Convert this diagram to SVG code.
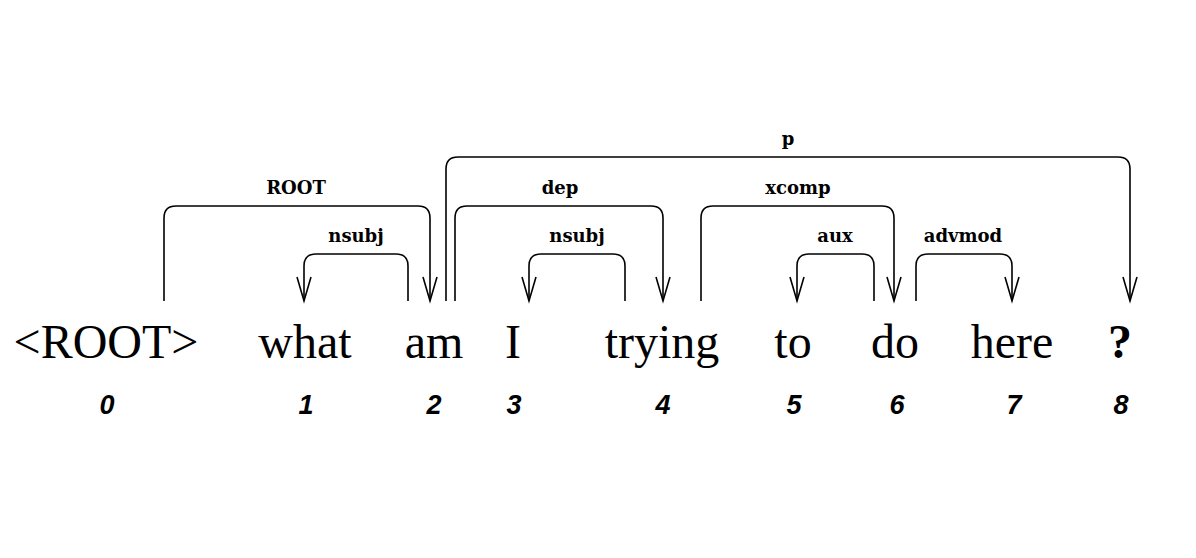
<svg xmlns="http://www.w3.org/2000/svg" width="1196" height="558" viewBox="0 0 1196 558">
<defs>
<marker id="ah" markerUnits="userSpaceOnUse" markerWidth="40" markerHeight="40" refX="0" refY="0" orient="auto" viewBox="-30 -15 40 30" overflow="visible">
<path d="M -24 -7 L 0 0 L -24 7" fill="none" stroke="#000" stroke-width="1.6"/>
</marker>
</defs>
<style>
.w{font-family:"Liberation Serif",serif;font-size:48px;fill:#000;text-anchor:middle}
.n{font-family:"Liberation Sans",sans-serif;font-size:27px;font-weight:bold;font-style:italic;fill:#000;text-anchor:middle}
.l{font-family:"DejaVu Serif",serif;font-size:18px;font-weight:bold;fill:#000;text-anchor:middle}
.a{fill:none;stroke:#000;stroke-width:1.6;marker-end:url(#ah)}
</style>
<rect width="1196" height="558" fill="#fff"/>
<g id="w0"><text class="w" x="106" y="358">&lt;ROOT&gt;</text><text class="n" x="107" y="414">0</text></g>
<g id="w1"><text class="w" x="305" y="358">what</text><text class="n" x="306" y="414">1</text></g>
<g id="w2"><text class="w" x="434" y="358">am</text><text class="n" x="434" y="414">2</text></g>
<g id="w3"><text class="w" x="513" y="358">I</text><text class="n" x="514" y="414">3</text></g>
<g id="w4"><text class="w" x="662" y="358">trying</text><text class="n" x="663" y="414">4</text></g>
<g id="w5"><text class="w" x="793" y="358">to</text><text class="n" x="794" y="414">5</text></g>
<g id="w6"><text class="w" x="895" y="358">do</text><text class="n" x="897" y="414">6</text></g>
<g id="w7"><text class="w" x="1012" y="358">here</text><text class="n" x="1014" y="414">7</text></g>
<g id="w8"><text class="w" x="1120" y="358" font-weight="bold">?</text><text class="n" x="1121" y="414">8</text></g>
<g id="connectors">
<path class="a" d="M164 301 V218 Q164 206 176 206 H418 Q430 206 430 218 V301"/>
<text class="l" x="296" y="194">ROOT</text>
<path class="a" d="M408 301 V266 Q408 254 396 254 H316 Q304 254 304 266 V301"/>
<text class="l" x="356" y="242">nsubj</text>
<path class="a" d="M446 301 V169 Q446 157 458 157 H1118 Q1130 157 1130 169 V301"/>
<text class="l" x="788" y="145">p</text>
<path class="a" d="M455 301 V218 Q455 206 467 206 H651 Q663 206 663 218 V301"/>
<text class="l" x="560" y="194">dep</text>
<path class="a" d="M625 301 V266 Q625 254 613 254 H541 Q529 254 529 266 V301"/>
<text class="l" x="577" y="242">nsubj</text>
<path class="a" d="M701 301 V218 Q701 206 713 206 H882 Q894 206 894 218 V301"/>
<text class="l" x="798" y="194">xcomp</text>
<path class="a" d="M874 301 V266 Q874 254 862 254 H809 Q797 254 797 266 V301"/>
<text class="l" x="835" y="242">aux</text>
<path class="a" d="M916 301 V266 Q916 254 928 254 H1000 Q1012 254 1012 266 V301"/>
<text class="l" x="963" y="242">advmod</text>
</g>
</svg>
